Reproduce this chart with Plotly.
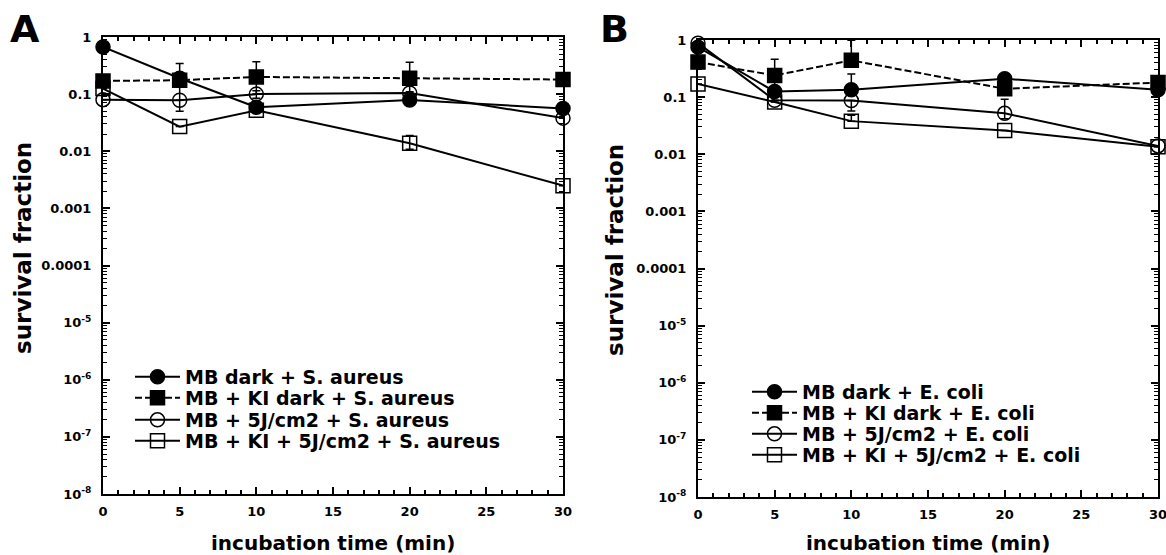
import plotly.graph_objects as go

# ---------------- data ----------------
time_min = [0, 5, 10, 20, 30]

# Panel A: S. aureus
sa_mb_dark = [0.67, 0.19, 0.059, 0.079, 0.056]
sa_ki_dark = [0.17, 0.175, 0.2, 0.19, 0.18]
sa_mb_light = [0.08, 0.078, 0.1, 0.105, 0.038]
sa_ki_light = [0.125, 0.027, 0.052, 0.0138, 0.0025]

sa_mb_dark_err_up = [0, 0, 0, 0, 0]
sa_mb_dark_err_dn = [0, 0.14, 0, 0, 0]
sa_ki_dark_err_up = [0, 0.17, 0.17, 0.17, 0]
sa_ki_dark_err_dn = [0, 0, 0.1, 0.08, 0]
sa_mb_light_err_up = [0, 0, 0.015, 0, 0]
sa_mb_light_err_dn = [0, 0, 0.015, 0, 0]
sa_ki_light_err_up = [0, 0, 0, 0.005, 0]
sa_ki_light_err_dn = [0, 0, 0, 0.003, 0]

# Panel B: E. coli
ec_mb_dark = [0.75, 0.125, 0.135, 0.21, 0.135]
ec_ki_dark = [0.41, 0.24, 0.44, 0.14, 0.18]
ec_mb_light = [0.88, 0.088, 0.087, 0.052, 0.014]
ec_ki_light = [0.17, 0.082, 0.038, 0.026, 0.0135]

ec_mb_dark_err_up = [0, 0, 0.12, 0, 0]
ec_mb_dark_err_dn = [0, 0, 0, 0, 0]
ec_ki_dark_err_up = [0, 0.22, 0.55, 0, 0]
ec_ki_dark_err_dn = [0, 0.12, 0, 0, 0]
ec_mb_light_err_up = [0, 0, 0, 0.04, 0]
ec_mb_light_err_dn = [0, 0, 0.03, 0.01, 0]
ec_ki_light_err_up = [0, 0, 0.01, 0, 0]
ec_ki_light_err_dn = [0, 0, 0, 0, 0]

names_sa = ["MB dark + S. aureus", "MB + KI dark + S. aureus",
            "MB + 5J/cm2 + S. aureus", "MB + KI + 5J/cm2 + S. aureus"]
names_ec = ["MB dark + E. coli", "MB + KI dark + E. coli",
            "MB + 5J/cm2 + E. coli", "MB + KI + 5J/cm2 + E. coli"]

y_tickvals = [1, 0.1, 0.01, 0.001, 0.0001, 1e-5, 1e-6, 1e-7, 1e-8]
y_ticktext = ["1", "0.1", "0.01", "0.001", "0.0001",
              "10<sup>-5</sup>", "10<sup>-6</sup>", "10<sup>-7</sup>", "10<sup>-8</sup>"]
x_tickvals = [0, 5, 10, 15, 20, 25, 30]

# ---------------- styling ----------------
W, H = 1166, 555
FONT = "DejaVu Sans"
symbols = ["circle", "square", "circle-open", "square-open"]
dashes = ["solid", "7px,3px", "solid", "solid"]


def px_x(p):
    return p / W


def px_y(p):
    return 1 - p / H


fig = go.Figure()

series_sets = [
    ("x", "y", [sa_mb_dark, sa_ki_dark, sa_mb_light, sa_ki_light],
     [(sa_mb_dark_err_up, sa_mb_dark_err_dn), (sa_ki_dark_err_up, sa_ki_dark_err_dn),
      (sa_mb_light_err_up, sa_mb_light_err_dn), (sa_ki_light_err_up, sa_ki_light_err_dn)],
     names_sa, 0),
    ("x2", "y2", [ec_mb_dark, ec_ki_dark, ec_mb_light, ec_ki_light],
     [(ec_mb_dark_err_up, ec_mb_dark_err_dn), (ec_ki_dark_err_up, ec_ki_dark_err_dn),
      (ec_mb_light_err_up, ec_mb_light_err_dn), (ec_ki_light_err_up, ec_ki_light_err_dn)],
     names_ec, 4),
]

for xa, ya, ys, errs, names, leg_off in series_sets:
    for i, (vals, (eu, ed), nm) in enumerate(zip(ys, errs, names)):
        leg_id = "legend" if leg_off + i == 0 else f"legend{leg_off + i + 1}"
        fig.add_trace(go.Scatter(
            x=time_min, y=vals, name=nm, xaxis=xa, yaxis=ya,
            mode="lines+markers", cliponaxis=False,
            line=dict(color="black", width=2, dash=dashes[i]),
            marker=dict(symbol=symbols[i], size=14, color="black",
                        line=dict(color="black", width=1.5)),
            error_y=dict(type="data", symmetric=False, array=eu, arrayminus=ed,
                         color="black", thickness=1.5, width=4),
            legend=leg_id,
        ))

# legends: one per entry so the rows can be spaced tightly
legend_rows_a = [377, 398, 420, 441]
legend_rows_b = [392, 413, 434, 455]
legend_x_a = 130
legend_x_b = 747
layout_legends = {}
for k in range(8):
    key = "legend" if k == 0 else f"legend{k + 1}"
    if k < 4:
        lx, ly = legend_x_a, legend_rows_a[k]
    else:
        lx, ly = legend_x_b, legend_rows_b[k - 4]
    layout_legends[key] = dict(
        x=px_x(lx), y=px_y(ly), xanchor="left", yanchor="middle",
        xref="paper", yref="paper",
        bgcolor="rgba(0,0,0,0)", borderwidth=0, itemwidth=45,
        font=dict(family=FONT, size=19, weight="bold", color="black"),
    )

tickfont = dict(family=FONT, size=13, weight="bold", color="black")
minor_y = [m * 10 ** e for e in range(-8, 0) for m in range(2, 10)]


def xaxis_cfg(domain, anchor):
    return dict(
        domain=domain, range=[0, 30], tickmode="array", tickvals=x_tickvals,
        anchor=anchor, automargin=False, ticklabeloverflow="allow",
        showline=True, linecolor="black", linewidth=2, mirror="allticks",
        ticks="inside", ticklen=7, tickwidth=1.5, tickcolor="black",
        showgrid=False, zeroline=False, tickfont=tickfont, ticklabelstandoff=4,
        minor=dict(ticks="inside", ticklen=4, tickwidth=1.5, tickcolor="black",
                   dtick=1, showgrid=False),
    )


def yaxis_cfg(domain, anchor):
    return dict(
        domain=domain, type="log", range=[-8, 0], tickmode="array",
        tickvals=y_tickvals, ticktext=y_ticktext, anchor=anchor, automargin=False,
        ticklabeloverflow="allow",
        showline=True, linecolor="black", linewidth=2, mirror="allticks",
        ticks="inside", ticklen=7, tickwidth=1.5, tickcolor="black",
        showgrid=False, zeroline=False, tickfont=tickfont, ticklabelstandoff=7,
        minor=dict(ticks="inside", ticklen=4, tickwidth=1, tickcolor="black",
                   tickmode="array", tickvals=minor_y, showgrid=False),
    )


annotations = [
    dict(text="<b>A</b>", x=px_x(25), y=px_y(29), xref="paper", yref="paper",
         xanchor="center", yanchor="middle", showarrow=False,
         font=dict(family=FONT, size=38, color="black")),
    dict(text="<b>B</b>", x=px_x(614), y=px_y(29), xref="paper", yref="paper",
         xanchor="center", yanchor="middle", showarrow=False,
         font=dict(family=FONT, size=38, color="black")),
    dict(text="<b>incubation time (min)</b>", x=px_x(333), y=px_y(543),
         xref="paper", yref="paper", xanchor="center", yanchor="middle",
         showarrow=False, font=dict(family=FONT, size=20, color="black")),
    dict(text="<b>incubation time (min)</b>", x=px_x(928), y=px_y(543),
         xref="paper", yref="paper", xanchor="center", yanchor="middle",
         showarrow=False, font=dict(family=FONT, size=20, color="black")),
    dict(text="<b>survival fraction</b>", x=px_x(23), y=px_y(248),
         xref="paper", yref="paper", xanchor="center", yanchor="middle",
         textangle=-90, showarrow=False, font=dict(family=FONT, size=23, color="black")),
    dict(text="<b>survival fraction</b>", x=px_x(615), y=px_y(250),
         xref="paper", yref="paper", xanchor="center", yanchor="middle",
         textangle=-90, showarrow=False, font=dict(family=FONT, size=23, color="black")),
]

fig.update_layout(
    template="none",
    width=W, height=H, margin=dict(l=0, r=0, t=0, b=0, autoexpand=False),
    paper_bgcolor="white", plot_bgcolor="white", showlegend=True,
    xaxis=xaxis_cfg([px_x(103), px_x(563)], "y"),
    yaxis=yaxis_cfg([px_y(494), px_y(37)], "x"),
    xaxis2=xaxis_cfg([px_x(698), px_x(1158)], "y2"),
    yaxis2=yaxis_cfg([px_y(497), px_y(40)], "x2"),
    annotations=annotations,
    **layout_legends,
)

fig.write_html(
    "out.html",
    config={"displayModeBar": False},
    post_script="document.body.style.margin='0';document.body.style.overflow='hidden';",
)
